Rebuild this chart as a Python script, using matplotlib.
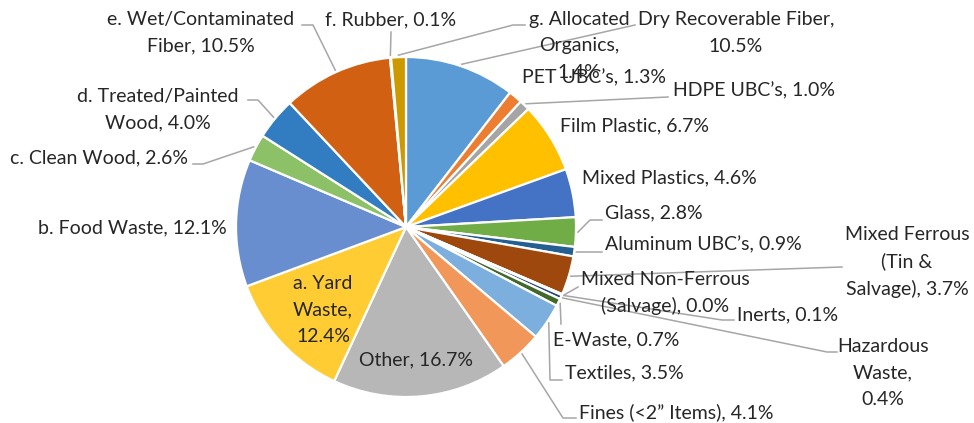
import numpy as np
import matplotlib.pyplot as plt

plt.rcParams['font.family'] = ['Lato', 'DejaVu Sans']

# Datos (en orden horario desde las 12)
categorias = [
    "Dry Recoverable Fiber", "PET UBC’s", "HDPE UBC’s", "Film Plastic",
    "Mixed Plastics", "Glass", "Aluminum UBC’s", "Mixed Ferrous (Tin & Salvage)",
    "Mixed Non-Ferrous (Salvage)", "Inerts", "Hazardous Waste", "E-Waste",
    "Textiles", "Fines (<2” Items)", "Other", "a. Yard Waste", "b. Food Waste",
    "c. Clean Wood", "d. Treated/Painted Wood", "e. Wet/Contaminated Fiber",
    "f. Rubber", "g. Allocated Organics",
]
porcentajes = [10.5, 1.3, 1.0, 6.7, 4.6, 2.8, 0.9, 3.7, 0.0, 0.1, 0.4, 0.7,
               3.5, 4.1, 16.7, 12.4, 12.1, 2.6, 4.0, 10.5, 0.1, 1.4]
colores = ["#5B9BD5", "#ED7D31", "#A5A5A5", "#FFC000", "#4472C4", "#70AD47",
           "#255E91", "#9E480E", "#636363", "#997300", "#264478", "#43682B",
           "#7CAFDD", "#F1975A", "#B7B7B7", "#FFCD33", "#698ED0", "#8CC168",
           "#327DC2", "#D26012", "#7C7C7C", "#CC9A00"]

# Texto de etiquetas (con saltos de linea como en el original)
etiquetas = [
    "Dry Recoverable Fiber,\n10.5%", "PET UBC’s, 1.3%", "HDPE UBC’s, 1.0%",
    "Film Plastic, 6.7%", "Mixed Plastics, 4.6%", "Glass, 2.8%",
    "Aluminum UBC’s, 0.9%", "Mixed Ferrous\n(Tin &\nSalvage), 3.7%",
    "Mixed Non-Ferrous\n(Salvage), 0.0%", "Inerts, 0.1%", "Hazardous\nWaste,\n0.4%",
    "E-Waste, 0.7%", "Textiles, 3.5%", "Fines (<2” Items), 4.1%", "Other, 16.7%",
    "a. Yard\nWaste,\n12.4%", "b. Food Waste, 12.1%", "c. Clean Wood, 2.6%",
    "d. Treated/Painted\nWood, 4.0%", "e. Wet/Contaminated\nFiber, 10.5%",
    "f. Rubber, 0.1%", "g. Allocated\nOrganics,\n1.4%",
]

# Layout en pixeles: (x, y, ha, puntos de la linea guia hacia la etiqueta o None)
layout = [
    (736, 33, "center", [(635, 25)]),
    (522, 78, "left", None),
    (673, 91, "left", [(668, 97)]),
    (560, 126, "left", None),
    (582, 178, "left", None),
    (605, 213, "left", [(590, 220), (602, 220)]),
    (605, 245, "left", [(602, 252)]),
    (907, 262, "center", [(842, 267)]),
    (665, 293, "center", [(578, 287)]),
    (737, 315, "left", [(722, 320), (734, 320)]),
    (883, 373, "center", [(827, 352), (837, 352)]),
    (553, 340, "left", [(561, 324)]),
    (565, 373, "left", [(550, 380), (562, 380)]),
    (579, 412, "left", [(563, 418), (576, 418)]),
    (416, 360, "center", None),
    (323, 310, "center", None),
    (132, 228, "center", None),
    (99, 158, "center", [(203, 164), (193, 164)]),
    (158, 110, "center", [(258, 100), (248, 100)]),
    (201, 33, "center", [(313, 25), (302, 25)]),
    (391, 20, "center", [(391, 32)]),
    (579, 46, "center", [(513, 25), (525, 25)]),
]

fig = plt.figure(figsize=(9.74, 4.23), dpi=100)
ax = fig.add_axes([0, 0, 1, 1])

cx, cy, r = 406, 227, 170
wedges, _ = ax.pie(porcentajes, colors=colores, startangle=-90, counterclock=True,
                   center=(cx, cy), radius=r,
                   wedgeprops=dict(edgecolor="white", linewidth=1.6))

ax.set_xlim(0, 974)
ax.set_ylim(423, 0)
ax.set_aspect("equal")
ax.axis("off")

for w, txt, (tx, ty, ha, guia) in zip(wedges, etiquetas, layout):
    ax.text(tx, ty, txt, ha=ha, va="center", fontsize=14, color="#262626",
            linespacing=1.65, multialignment="center")
    if guia:
        ang = np.deg2rad((w.theta1 + w.theta2) / 2)
        x0 = w.center[0] + (w.r + 2) * np.cos(ang)
        y0 = w.center[1] + (w.r + 2) * np.sin(ang)
        xs = [x0] + [p[0] for p in guia]
        ys = [y0] + [p[1] for p in guia]
        ax.plot(xs, ys, color="#A6A6A6", lw=1.1, zorder=0.5)

fig.savefig("out.png", dpi=100)
